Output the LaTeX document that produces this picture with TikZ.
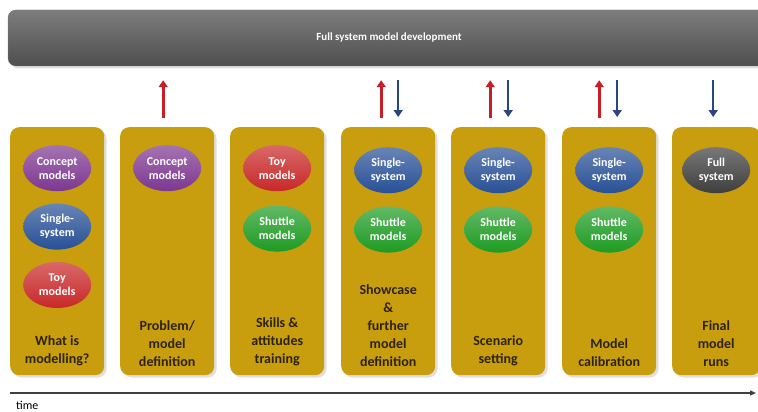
\documentclass[tikz,border=0pt]{standalone}
\usepackage{fontspec}
\setmainfont{Carlito}
\usetikzlibrary{positioning}
\usetikzlibrary{shapes.geometric}
\usetikzlibrary{arrows.meta}
\usetikzlibrary{shadows}

\definecolor{gold}{RGB}{200,158,14}
\definecolor{labelink}{RGB}{45,35,10}
\definecolor{barlight}{RGB}{125,125,125}
\definecolor{bardark}{RGB}{78,78,78}
\definecolor{upred}{RGB}{200,30,40}
\definecolor{downblue}{RGB}{40,70,130}
\definecolor{conceptpurple}{RGB}{125,55,145}
\definecolor{singleblue}{RGB}{40,80,150}
\definecolor{toyred}{RGB}{200,40,40}
\definecolor{shuttlegreen}{RGB}{30,155,35}
\definecolor{fullgrey}{RGB}{62,62,62}

\begin{document}
\begin{tikzpicture}[x=1pt,y=-1pt,
    column/.style={rectangle,rounded corners=9pt,fill=gold,minimum width=94pt,
        minimum height=248pt,anchor=north west,drop shadow={opacity=0.25}},
    stagelabel/.style={align=center,inner sep=0pt,text=labelink,
        font=\bfseries\fontsize{14}{18}\selectfont},
    model/.style={ellipse,minimum width=68pt,minimum height=46pt,inner sep=0pt,
        align=center,text=white,font=\bfseries\fontsize{12}{14}\selectfont},
    concept/.style={model,top color=conceptpurple!70!white,bottom color=conceptpurple},
    single/.style={model,top color=singleblue!70!white,bottom color=singleblue},
    toy/.style={model,top color=toyred!70!white,bottom color=toyred},
    shuttle/.style={model,top color=shuttlegreen!70!white,bottom color=shuttlegreen},
    fullsys/.style={model,top color=fullgrey!70!white,bottom color=fullgrey},
    uparrow/.style={-{Triangle[width=9pt,length=7pt]},line width=2.6pt,upred,
        shorten <=9pt,shorten >=14pt},
    downarrow/.style={-{Triangle[width=9pt,length=7pt]},line width=2.2pt,downblue,
        shorten <=14pt,shorten >=10pt}]

            %\draw [help lines] (0,0) grid (758,412);
            \useasboundingbox (0,0) rectangle (758,412);

            % top bar
            \node (bar) [rectangle,rounded corners=8pt,minimum width=762pt,minimum height=56pt,
                top color=barlight,bottom color=bardark,draw=bardark!80!white,
                text=white,font=\bfseries\fontsize{11}{13}\selectfont,drop shadow={opacity=0.25}]
                at (389,38) {Full system model development};

            % stages
            \path   (10,127)  node (c1) [column] {}
                    (120,127) node (c2) [column] {}
                    (230,127) node (c3) [column] {}
                    (341,127) node (c4) [column] {}
                    (451,127) node (c5) [column] {}
                    (562,127) node (c6) [column] {}
                    (672,127) node (c7) [column,minimum width=88pt] {};

            % models
            \node (c1a) [concept,below=18pt of c1.north] {Concept\\models};
            \node (c1b) [single,below=12pt of c1a] {Single-\\system};
            \node (c1c) [toy,below=12pt of c1b] {Toy\\models};

            \node (c2a) [concept,below=18pt of c2.north] {Concept\\models};

            \node (c3a) [toy,below=18pt of c3.north] {Toy\\models};
            \node (c3b) [shuttle,below=14pt of c3a] {Shuttle\\models};

            \node (c4a) [single,below=20pt of c4.north] {Single-\\system};
            \node (c4b) [shuttle,below=13pt of c4a] {Shuttle\\models};

            \node (c5a) [single,below=20pt of c5.north] {Single-\\system};
            \node (c5b) [shuttle,below=13pt of c5a] {Shuttle\\models};

            \node (c6a) [single,below=20pt of c6.north] {Single-\\system};
            \node (c6b) [shuttle,below=13pt of c6a] {Shuttle\\models};

            \node (c7a) [fullsys,below=20pt of c7.north] {Full\\system};

            % stage names
            \node (l1) [stagelabel,above=9pt of c1.south] {What is\\modelling?};
            \node (l2) [stagelabel,above=9pt of c2.south] {Problem/\\model\\definition};
            \node (l3) [stagelabel,above=9pt of c3.south] {Skills \&\\attitudes\\training};
            \node (l4) [stagelabel,above=9pt of c4.south] {Showcase\\\&\\further\\model\\definition};
            \node (l5) [stagelabel,above=9pt of c5.south] {Scenario\\setting};
            \node (l6) [stagelabel,above=9pt of c6.south] {Model\\calibration};
            \node (l7) [stagelabel,above=9pt of c7.south] {Final\\model\\runs};

            % exchange with the full system model
            \draw[uparrow] ([xshift=-4pt]c2.north) -- ([xshift=-4pt]c2.north |- bar.south);
            \draw[uparrow] ([xshift=-7pt]c4.north) -- ([xshift=-7pt]c4.north |- bar.south);
            \draw[downarrow] ([xshift=10pt]c4.north |- bar.south) -- ([xshift=10pt]c4.north);
            \draw[uparrow] ([xshift=-8pt]c5.north) -- ([xshift=-8pt]c5.north |- bar.south);
            \draw[downarrow] ([xshift=10pt]c5.north |- bar.south) -- ([xshift=10pt]c5.north);
            \draw[uparrow] ([xshift=-10pt]c6.north) -- ([xshift=-10pt]c6.north |- bar.south);
            \draw[downarrow] ([xshift=8pt]c6.north |- bar.south) -- ([xshift=8pt]c6.north);
            \draw[downarrow] ([xshift=-3pt]c7.north |- bar.south) -- ([xshift=-3pt]c7.north);

            % time axis
            \coordinate (t0) at (10,393);
            \coordinate (t1) at (756,393);
            \draw[-{Triangle[width=5pt,length=6pt]},line width=1.3pt,black!75] (t0) -- (t1);
            \node (time) [anchor=base west,inner sep=0pt,font=\fontsize{12}{14}\selectfont]
                at (16,409) {time};
        \end{tikzpicture}
\end{document}
